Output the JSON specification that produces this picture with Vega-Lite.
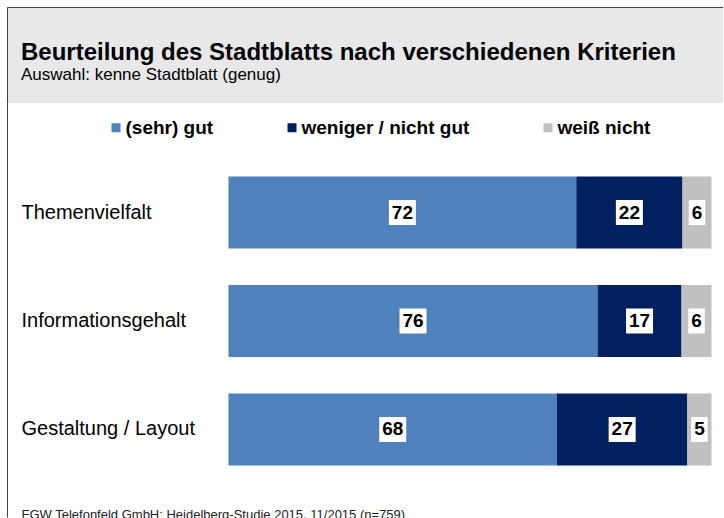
{
  "$schema": "https://vega.github.io/schema/vega-lite/v6.json",
  "padding": {"left": 7, "top": 7, "right": 0, "bottom": 0},
  "background": "white",
  "spacing": 0,
  "config": {
    "font": "Liberation Sans",
    "view": {"stroke": null},
    "axisX": {"labels": false, "ticks": false, "domain": false, "grid": false},
    "axisY": {"grid": false}
  },
  "vconcat": [
    {
      "width": 716,
      "height": 96,
      "view": {"fill": "#e8e8e8", "stroke": null},
      "title": {
        "text": "Beurteilung des Stadtblatts nach verschiedenen Kriterien",
        "subtitle": "Auswahl: kenne Stadtblatt (genug)",
        "anchor": "start",
        "frame": "group",
        "orient": "top",
        "offset": -76,
        "dx": 14,
        "font": "Liberation Sans",
        "fontSize": 24,
        "fontWeight": "bold",
        "color": "#000000",
        "subtitleFont": "Liberation Sans",
        "subtitleFontSize": 17,
        "subtitleColor": "#000000",
        "subtitlePadding": 2
      },
      "data": {"values": [{"a": 0}, {"a": 1}]},
      "mark": {"type": "point", "opacity": 0, "size": 0, "strokeWidth": 0},
      "encoding": {
        "x": {
          "field": "a", "type": "quantitative",
          "scale": {"domain": [0, 1], "nice": false},
          "axis": {"orient": "top", "domain": true, "domainColor": "#444444", "domainWidth": 1, "ticks": false, "labels": false, "grid": false, "title": null}
        },
        "y": {
          "field": "a", "type": "quantitative",
          "scale": {"domain": [0, 1], "nice": false},
          "axis": {"orient": "left", "domain": true, "domainColor": "#444444", "domainWidth": 1, "ticks": false, "labels": false, "grid": false, "title": null}
        }
      }
    },
    {
      "width": 716,
      "height": 414,
      "data": {
        "values": [
          {"criterion": "Themenvielfalt", "rating": "(sehr) gut", "value": 72},
          {"criterion": "Themenvielfalt", "rating": "weniger / nicht gut", "value": 22},
          {"criterion": "Themenvielfalt", "rating": "weiß nicht", "value": 6},
          {"criterion": "Informationsgehalt", "rating": "(sehr) gut", "value": 76.4},
          {"criterion": "Informationsgehalt", "rating": "weniger / nicht gut", "value": 17.4},
          {"criterion": "Informationsgehalt", "rating": "weiß nicht", "value": 6.2},
          {"criterion": "Gestaltung / Layout", "rating": "(sehr) gut", "value": 68},
          {"criterion": "Gestaltung / Layout", "rating": "weniger / nicht gut", "value": 27},
          {"criterion": "Gestaltung / Layout", "rating": "weiß nicht", "value": 5}
        ]
      },
      "transform": [
        {"calculate": "indexof(['(sehr) gut','weniger / nicht gut','weiß nicht'], datum.rating)", "as": "k"},
        {"stack": "value", "groupby": ["criterion"], "sort": [{"field": "k", "order": "ascending"}], "as": ["v0", "v1"]},
        {"calculate": "(datum.v0 + datum.v1) / 2", "as": "mid"}
      ],
      "encoding": {
        "y": {
          "field": "criterion", "type": "nominal",
          "sort": ["Themenvielfalt", "Informationsgehalt", "Gestaltung / Layout"],
          "scale": {"paddingInner": 0.336, "paddingOuter": 0.576, "align": 0.588},
          "axis": {
            "orient": "left", "title": null,
            "domain": true, "domainColor": "#444444", "domainWidth": 1,
            "ticks": false, "tickSize": 0, "grid": false,
            "labelAlign": "left", "labelPadding": -14, "labelFontSize": 20,
            "labelFont": "Liberation Sans", "labelColor": "#000000", "labelLimit": 300
          }
        }
      },
      "layer": [
        {
          "mark": {"type": "bar"},
          "encoding": {
            "x": {
              "field": "v0", "type": "quantitative",
              "scale": {"domain": [-45.859, 102.381], "nice": false, "zero": false},
              "axis": {
                "labels": false, "ticks": false, "domain": false, "grid": false,
                "title": "FGW Telefonfeld GmbH: Heidelberg-Studie 2015, 11/2015 (n=759)",
                "titleX": 14, "titleY": 1, "titleAlign": "left", "titleAnchor": "start",
                "titleBaseline": "alphabetic", "titleFontSize": 13, "titleFontWeight": "normal",
                "titleFont": "Liberation Sans", "titleColor": "#222222"
              }
            },
            "x2": {"field": "v1"},
            "color": {
              "field": "rating", "type": "nominal",
              "scale": {"domain": ["(sehr) gut", "weniger / nicht gut", "weiß nicht"], "range": ["#4f81bd", "#002060", "#c0c0c0"]},
              "legend": {
                "orient": "none", "legendX": 99.5, "legendY": 111,
                "direction": "horizontal", "columns": 3, "title": null,
                "symbolType": "square", "symbolSize": 81, "symbolStrokeWidth": 0, "symbolOpacity": 1,
                "labelFont": "Liberation Sans", "labelFontSize": 19, "labelFontWeight": "bold",
                "labelColor": "#000000", "labelLimit": 300, "labelOffset": 0,
                "columnPadding": 69, "padding": 0
              }
            }
          }
        },
        {
          "transform": [{"filter": "datum.value >= 9.5"}],
          "mark": {"type": "point", "filled": true, "color": "white", "opacity": 1, "strokeWidth": 0, "size": 625, "shape": "M-1.08,-1L1.08,-1L1.08,1L-1.08,1Z"},
          "encoding": {"x": {"field": "mid", "type": "quantitative"}}
        },
        {
          "transform": [{"filter": "datum.value < 9.5"}],
          "mark": {"type": "point", "filled": true, "color": "white", "opacity": 1, "strokeWidth": 0, "size": 625, "shape": "M-0.66,-1L0.66,-1L0.66,1L-0.66,1Z"},
          "encoding": {"x": {"field": "mid", "type": "quantitative"}}
        },
        {
          "mark": {"type": "text", "fontSize": 19, "fontWeight": "bold", "color": "#000000", "font": "Liberation Sans"},
          "encoding": {
            "x": {"field": "mid", "type": "quantitative"},
            "text": {"field": "value", "type": "quantitative", "format": ".0f"}
          }
        }
      ]
    }
  ]
}
